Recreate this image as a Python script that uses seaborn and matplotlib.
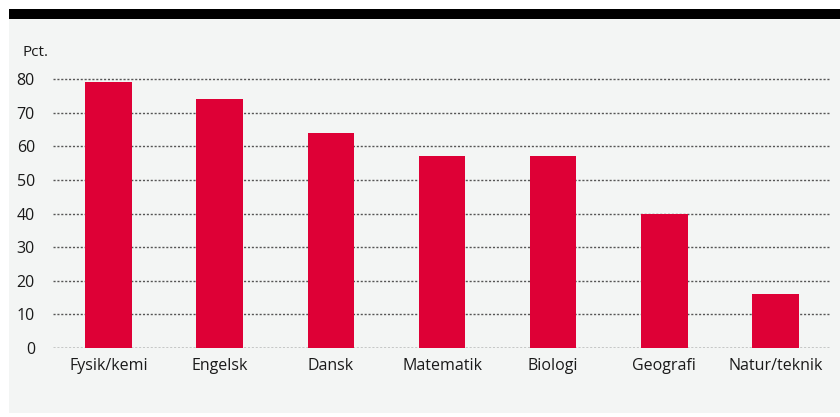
import matplotlib
matplotlib.use("Agg")
import matplotlib.pyplot as plt
from matplotlib.patches import Rectangle
import seaborn as sns
import pandas as pd

# data
fag = ["Fysik/kemi", "Engelsk", "Dansk", "Matematik", "Biologi", "Geografi", "Natur/teknik"]
pct = [79, 74, 64, 57, 57, 40, 16]
yticks = [0, 10, 20, 30, 40, 50, 60, 70, 80]

sns.set_style("white")
plt.rcParams['font.family'] = ['Open Sans', 'DejaVu Sans']

df = pd.DataFrame({"fag": fag, "pct": pct})

fig = plt.figure(figsize=(8.4, 4.17), dpi=100)
fig.patch.set_facecolor("white")
W, H = 840, 417
# grey panel + black top band (behind the axes)
fig.patches.append(Rectangle((9 / W, (H - 413) / H), (W - 9) / W, (413 - 19) / H,
                             transform=fig.transFigure, facecolor="#f3f5f4", edgecolor="none", zorder=-10))
fig.patches.append(Rectangle((9 / W, (H - 19) / H), (W - 9) / W, 10 / H,
                             transform=fig.transFigure, facecolor="black", edgecolor="none", zorder=-10))

ax = fig.add_axes([53 / W, 69 / H, (831 - 53) / W, 0.661])
ax.set_facecolor("none")

sns.barplot(data=df, x="fag", y="pct", order=fag, color="#de0036", width=0.42,
            saturation=1, linewidth=0, ax=ax, zorder=3)

ax.set_xlim(-0.5, 6.5)
ax.set_ylim(0, 82)
ax.set_yticks(yticks)
for y in yticks:
    ax.axhline(y, color="#111111" if y == 0 else "#555555", lw=1.0,
               linestyle=(0, (1.5, 1.3)), zorder=1)
for s in ax.spines.values():
    s.set_visible(False)
ax.tick_params(axis="both", length=0, labelsize=11.5, colors="#1a1a1a")
ax.tick_params(axis="y", pad=13)
ax.tick_params(axis="x", pad=7)
ax.set_xlabel("")
ax.set_ylabel("")
fig.text(23 / W, (H - 53) / H, "Pct.", fontsize=11, color="#1a1a1a", va="center")

fig.savefig("out.png", dpi=100)
